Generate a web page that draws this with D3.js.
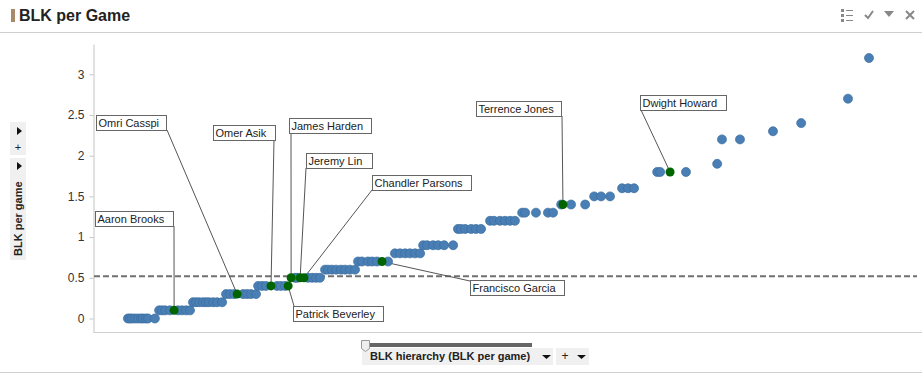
<!DOCTYPE html>
<html>
  <head>
    <meta charset="utf-8">
    <title>BLK per Game</title>
    <script src="https://cdn.jsdelivr.net/npm/d3@7"></script>
    <style>
      html, body { margin: 0; padding: 0; background: #fff; overflow: hidden; }
      text { font-family: "Liberation Sans", Arial, sans-serif; fill: #222; }
      .axis path, .axis line { stroke: #c4c4c4; }
      .axis text { font-size: 12px; fill: #333; }
    </style>
  </head>

  <body>
    <svg id="chart" width="922" height="377"></svg>

    <script>
      // data: blocks per game levels, and the rank of each player on that level
      blkLevels = [0, 0.1, 0.2, 0.3, 0.4, 0.5, 0.6, 0.7, 0.8, 0.9, 1.1, 1.2, 1.3, 1.4, 1.5, 1.6, 1.8, 1.9, 2.2, 2.3, 2.4, 2.7, 3.2];
      ranksByLevel = [
        [11.3, 12, 12.7, 13.7, 14.7, 15.7, 16.3, 17.3, 18, 20.3],
        [21.7, 22.7, 23.7, 25.3, 28, 29.3, 30.7, 32],
        [33, 34, 35, 36.3, 37.3, 38.3, 39.7, 41, 42.7],
        [44, 45.3, 46.7, 49.7, 51, 52.3, 54],
        [54.7, 56, 57.3, 61, 62.3, 63.7],
        [67, 67.7, 71.3, 72.7, 74, 75.3],
        [77, 78, 79.3, 80.7, 82.3, 83.7, 85.3, 87],
        [88, 89.3, 91.3, 92.7, 94.3, 98],
        [100.3, 102, 103.7, 105.3, 107, 108.7],
        [109.7, 111, 113, 114.7, 116.7, 119.7],
        [121.3, 122.3, 123.7, 125.7, 127.3, 129],
        [132, 133.3, 135.3, 137, 138.7, 140.3],
        [142.7, 143.7, 147.3, 151.3, 153],
        [155.7, 159, 163.7],
        [166.7, 169, 172],
        [176, 178, 180],
        [187.7, 188.7, 197.3],
        [207.7],
        [209.3, 215.3],
        [226.3],
        [235.7],
        [251.3],
        [258.3]
      ];

      // labelled players
      names = ["Aaron Brooks", "Omri Casspi", "Omer Asik", "Patrick Beverley", "James Harden", "Jeremy Lin", "Chandler Parsons", "Francisco Garcia", "Terrence Jones", "Dwight Howard"];
      nameRanks = [26.7, 47.7, 59, 64.7, 65.7, 68.7, 70, 96, 156.3, 192];
      nameBlk = [0.1, 0.3, 0.4, 0.4, 0.5, 0.5, 0.5, 0.7, 1.4, 1.8];

      meanBlk = 0.52;
      yTicks = [0, 0.5, 1, 1.5, 2, 2.5, 3];

      // callout boxes: x, y, width, and where the leader leaves the box
      boxes = [
        [95, 211, 78, 174, 226],
        [96, 115, 70, 167, 130],
        [213, 125, 62, 274, 140],
        [293, 306, 90, 294, 306],
        [289, 118, 82, 291, 133],
        [306, 153, 66, 306, 168],
        [372, 175, 99, 372, 190],
        [470, 280, 94, 470, 281],
        [476, 101, 85, 562, 116],
        [640, 95, 86, 641, 110]
      ];

      svg = d3.select("#chart");

      x = d3.scaleLinear().domain([0, 274.3]).range([94, 917]);
      y = d3.scaleLinear().domain([-0.166, 3.372]).range([332, 44]);

      // header
      svg.append("rect").attr("x", 11).attr("y", 9).attr("width", 4).attr("height", 13).attr("fill", "#a98a68");
      svg.append("text").attr("x", 19).attr("y", 21).attr("font-size", 16).attr("font-weight", "bold").attr("fill", "#111").text("BLK per Game");
      svg.append("line").attr("x1", 0).attr("x2", 922).attr("y1", 32.5).attr("y2", 32.5).attr("stroke", "#cfcfcf");

      // header icons
      icons = svg.append("g").attr("fill", "none").attr("stroke", "#888");
      [10, 15, 20].forEach(function(d) {
        icons.append("rect").attr("x", 841).attr("y", d - 1).attr("width", 3).attr("height", 3).attr("fill", "#888").attr("stroke", "none");
        icons.append("line").attr("x1", 846).attr("x2", 853).attr("y1", d + 0.5).attr("y2", d + 0.5);
      });
      icons.append("path").attr("d", "M865 15l3 3l5-7").attr("stroke-width", 2);
      icons.append("path").attr("d", "M884 11h10l-5 6z").attr("fill", "#888").attr("stroke", "none");
      icons.append("path").attr("d", "M906 11l8 8M914 11l-8 8").attr("stroke-width", 2);

      // axes
      yAxis = d3.axisLeft(y).tickValues(yTicks).tickFormat(d3.format("")).tickSize(4).tickSizeOuter(0).tickPadding(5);
      svg.append("g").attr("class", "axis").attr("transform", "translate(93.5,0)").call(yAxis);
      svg.append("line").attr("x1", 93.5).attr("x2", 922).attr("y1", 332.5).attr("y2", 332.5).attr("stroke", "#d0d0d0");

      // mean line
      svg.append("line")
        .attr("x1", x(0)).attr("x2", x(274.3))
        .attr("y1", y(meanBlk)).attr("y2", y(meanBlk))
        .attr("stroke", "#707070").attr("stroke-width", 2).attr("stroke-dasharray", "6,3");

      // leaders go under the dots
      svg.append("g").selectAll("line")
        .data(names)
        .enter().append("line")
          .attr("x1", function(d, i) { return boxes[i][3]; })
          .attr("y1", function(d, i) { return boxes[i][4]; })
          .attr("x2", function(d, i) { return x(nameRanks[i]); })
          .attr("y2", function(d, i) { return y(nameBlk[i]); })
          .attr("stroke", "#555");

      // players
      blkLevels.forEach(function(level, i) {
        svg.append("g").selectAll("circle")
          .data(ranksByLevel[i])
          .enter().append("circle")
            .attr("cx", function(d) { return x(d); })
            .attr("cy", y(level))
            .attr("r", 4.5)
            .attr("fill", "#4a7fb5")
            .attr("stroke", "#3a6d9f")
            .attr("stroke-width", 0.7);
      });

      svg.append("g").selectAll("circle")
        .data(names)
        .enter().append("circle")
          .attr("cx", function(d, i) { return x(nameRanks[i]); })
          .attr("cy", function(d, i) { return y(nameBlk[i]); })
          .attr("r", 4.5)
          .attr("fill", "#006400");

      // callout boxes
      callouts = svg.append("g").selectAll("g")
        .data(names)
        .enter().append("g")
          .attr("transform", function(d, i) { return "translate(" + (boxes[i][0] + 0.5) + "," + (boxes[i][1] + 0.5) + ")"; });
      callouts.append("rect")
        .attr("width", function(d, i) { return boxes[i][2]; })
        .attr("height", 15)
        .attr("fill", "#fff")
        .attr("stroke", "#666");
      callouts.append("text")
        .attr("x", 2)
        .attr("y", 11.5)
        .attr("font-size", 11)
        .text(function(d) { return d; });

      // left panel
      left = svg.append("g");
      left.append("rect").attr("x", 10).attr("y", 122).attr("width", 16).attr("height", 33).attr("fill", "#f0f0f0");
      left.append("rect").attr("x", 10).attr("y", 158).attr("width", 16).attr("height", 102).attr("fill", "#f0f0f0");
      left.append("path").attr("d", "M17 127l5 4l-5 4z").attr("fill", "#111");
      left.append("path").attr("d", "M17 162l5 4l-5 4z").attr("fill", "#111");
      left.append("text").attr("x", 18).attr("y", 151).attr("text-anchor", "middle").attr("font-size", 11).text("+");
      left.append("text")
        .attr("transform", "translate(22,256) rotate(-90)")
        .attr("font-size", 11).attr("font-weight", "bold")
        .text("BLK per game");

      // bottom controls
      bottom = svg.append("g");
      bottom.append("rect").attr("x", 362).attr("y", 348).attr("width", 191).attr("height", 17).attr("fill", "#f0f0f0");
      bottom.append("rect").attr("x", 556).attr("y", 348).attr("width", 33).attr("height", 17).attr("fill", "#f0f0f0");
      bottom.append("rect").attr("x", 366).attr("y", 343).attr("width", 166).attr("height", 4).attr("fill", "#666");
      bottom.append("path").attr("d", "M361.5 340.5h8v8l-4 3l-4-3z").attr("fill", "#eee").attr("stroke", "#999");
      bottom.append("text").attr("x", 370).attr("y", 360).attr("font-size", 11).attr("font-weight", "bold").text("BLK hierarchy (BLK per game)");
      bottom.append("path").attr("d", "M542 355h9l-4.5 4z").attr("fill", "#111");
      bottom.append("text").attr("x", 565).attr("y", 360).attr("text-anchor", "middle").attr("font-size", 12).text("+");
      bottom.append("path").attr("d", "M577 355h9l-4.5 4z").attr("fill", "#111");
      svg.append("line").attr("x1", 0).attr("x2", 922).attr("y1", 372.5).attr("y2", 372.5).attr("stroke", "#cfcfcf");
    </script>
  </body>
</html>
